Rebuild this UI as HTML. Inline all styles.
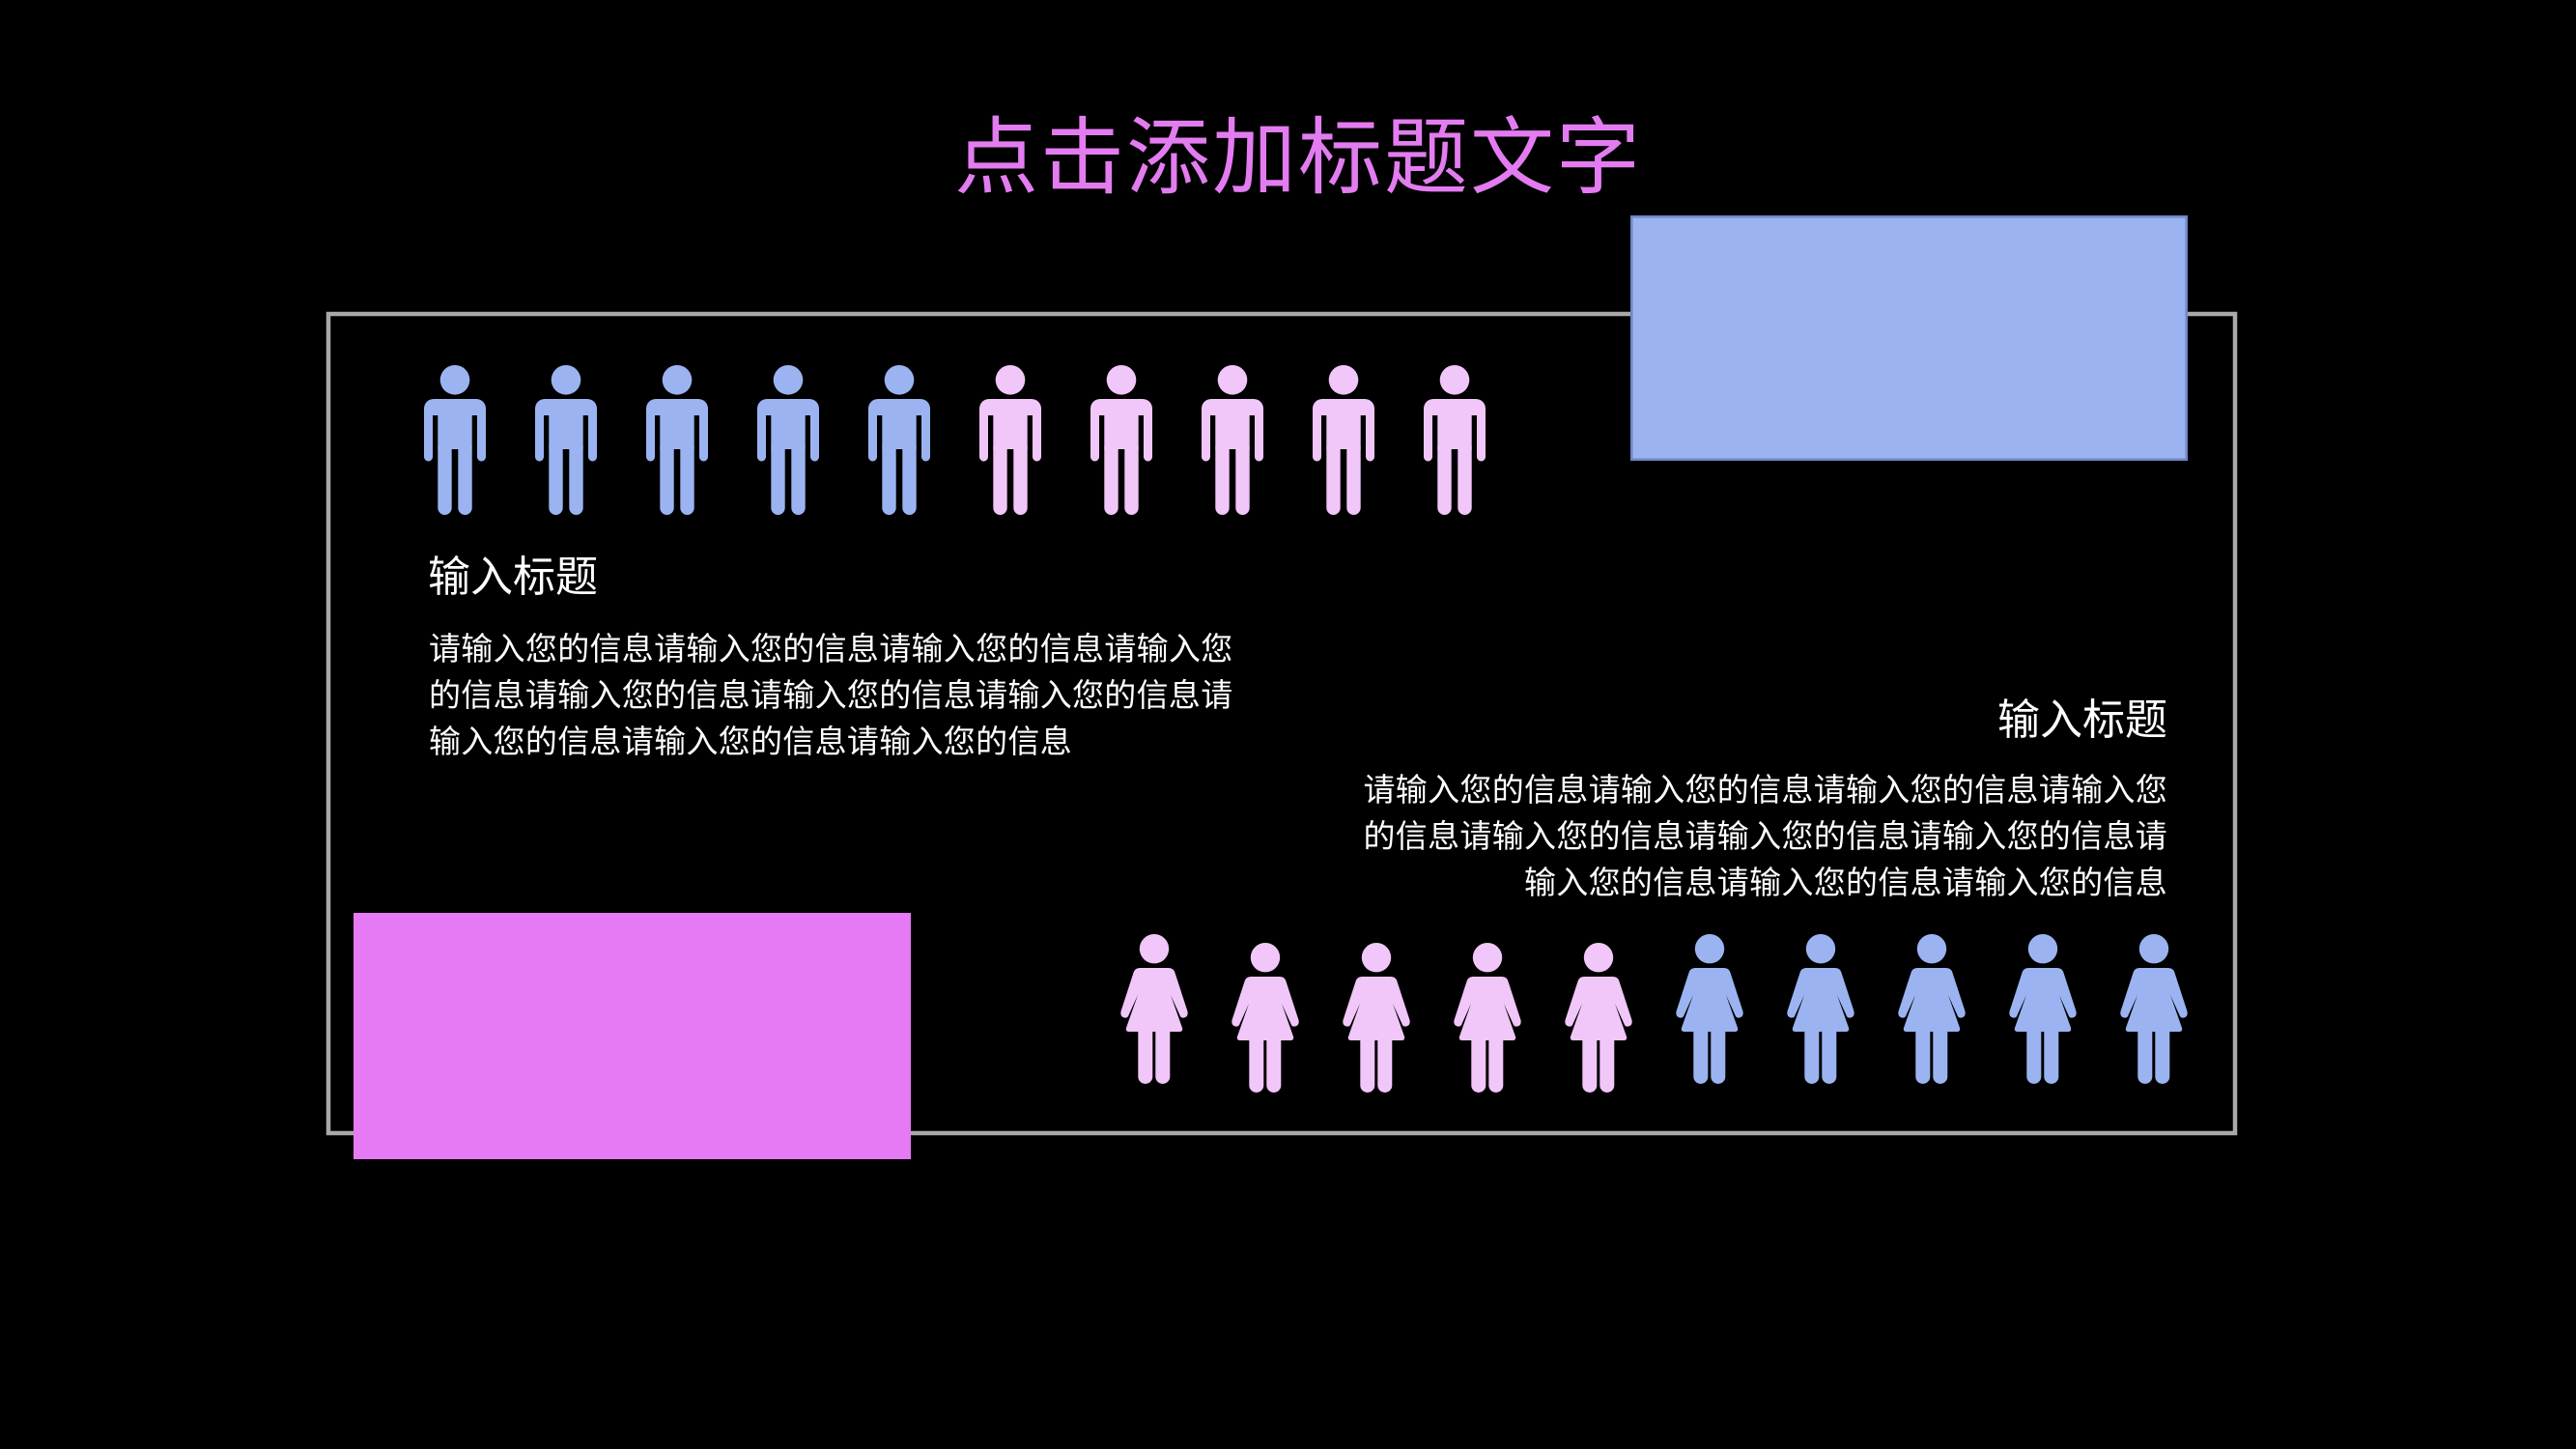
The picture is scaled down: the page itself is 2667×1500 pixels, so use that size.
<!DOCTYPE html>
<html>
<head>
<meta charset="utf-8">
<style>
  html, body { margin:0; padding:0; background:#000; }
  body { width:2667px; height:1500px; position:relative; overflow:hidden;
         font-family:"Liberation Sans","Noto Sans CJK SC",sans-serif; }
  .t { position:absolute; white-space:nowrap; }
  #title { left:988px; top:120px; font-size:87px; line-height:87px; letter-spacing:2px; color:#e37cf0; }
  .h { font-size:44px; line-height:44px; color:#fff; }
  .b { font-size:33px; line-height:48px; letter-spacing:0.3px; color:#fff; }
  svg { position:absolute; left:0; top:0; }
</style>
</head>
<body>
<svg width="2667" height="1500" viewBox="0 0 2667 1500" xmlns="http://www.w3.org/2000/svg">
  <defs>
    <g id="man">
      <circle cx="0" cy="15.3" r="15.3"/>
      <path d="M -22 35 H 22 A 10 10 0 0 1 32 45 V 95 A 4.5 4.5 0 0 1 23 95 V 52 H 17.7 V 87 H -17.7 V 52 H -23 V 95 A 4.5 4.5 0 0 1 -32 95 V 45 A 10 10 0 0 1 -22 35 Z"/>
      <rect x="-17.7" y="78" width="14.4" height="77" rx="7.2"/>
      <rect x="3.3" y="78" width="14.4" height="77" rx="7.2"/>
    </g>
    <g id="woman">
      <circle cx="0" cy="15.2" r="15.2"/>
      <path d="M -15 35 H 15 Q 20 35 21.5 40 L 34.5 80 Q 35.5 85.5 31 86.5 Q 27.5 87.3 26.3 83.5 L 17 63 L 29 97 Q 30 101 26 101 H -26 Q -30 101 -29 97 L -17 63 L -26.3 83.5 Q -27.5 87.3 -31 86.5 Q -35.5 85.5 -34.5 80 L -21.5 40 Q -20 35 -15 35 Z"/>
      <rect x="-16.7" y="92" width="15" height="63" rx="7.5"/>
      <rect x="1.3" y="92" width="15" height="63" rx="7.5"/>
    </g>
  </defs>

  <!-- frame -->
  <rect x="340" y="325" width="1974" height="848" fill="none" stroke="#a9a9a9" stroke-width="4.5"/>

  <!-- blue rect -->
  <rect x="1689.25" y="224.25" width="574.5" height="251.5" fill="#9bb4f1" stroke="#6f87c3" stroke-width="2.5"/>

  <!-- pink rect -->
  <rect x="366" y="945" width="577" height="255" fill="#e679f4"/>

  <!-- men row -->
  <g fill="#9bb4f1">
    <use href="#man" transform="translate(471,378)"/>
    <use href="#man" transform="translate(586,378)"/>
    <use href="#man" transform="translate(701,378)"/>
    <use href="#man" transform="translate(816,378)"/>
    <use href="#man" transform="translate(931,378)"/>
  </g>
  <g fill="#f1c6f8">
    <use href="#man" transform="translate(1046,378)"/>
    <use href="#man" transform="translate(1161,378)"/>
    <use href="#man" transform="translate(1276,378)"/>
    <use href="#man" transform="translate(1391,378)"/>
    <use href="#man" transform="translate(1506,378)"/>
  </g>

  <!-- women row -->
  <g fill="#f1c6f8">
    <use href="#woman" transform="translate(1195,967)"/>
    <use href="#woman" transform="translate(1310,976)"/>
    <use href="#woman" transform="translate(1425,976)"/>
    <use href="#woman" transform="translate(1540,976)"/>
    <use href="#woman" transform="translate(1655,976)"/>
  </g>
  <g fill="#9bb4f1">
    <use href="#woman" transform="translate(1770,967)"/>
    <use href="#woman" transform="translate(1885,967)"/>
    <use href="#woman" transform="translate(2000,967)"/>
    <use href="#woman" transform="translate(2115,967)"/>
    <use href="#woman" transform="translate(2230,967)"/>
  </g>
</svg>

<div id="title" class="t">点击添加标题文字</div>

<div class="t h" style="left:443px; top:576px;">输入标题</div>
<div class="t b" style="left:444px; top:648px;">请输入您的信息请输入您的信息请输入您的信息请输入您<br>的信息请输入您的信息请输入您的信息请输入您的信息请<br>输入您的信息请输入您的信息请输入您的信息</div>

<div class="t h" style="right:423px; top:724px; text-align:right;">输入标题</div>
<div class="t b" style="right:423px; top:794px; text-align:right;">请输入您的信息请输入您的信息请输入您的信息请输入您<br>的信息请输入您的信息请输入您的信息请输入您的信息请<br>输入您的信息请输入您的信息请输入您的信息</div>
</body>
</html>
